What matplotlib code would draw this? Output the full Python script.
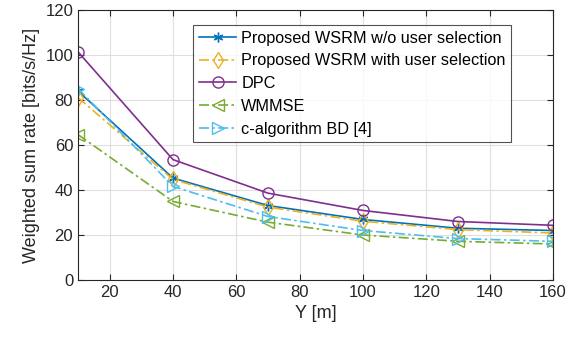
import matplotlib
matplotlib.use("Agg")
import matplotlib.pyplot as plt

plt.rcParams["font.family"] = ["Liberation Sans", "DejaVu Sans"]

# distance Y in metres
y_dist = [10, 40, 70, 100, 130, 160]

# weighted sum rate [bits/s/Hz]
wsrm_no_sel = [84.0, 45.3, 33.1, 26.9, 23.0, 22.0]
wsrm_sel = [81.1, 44.7, 32.4, 26.1, 22.4, 20.9]
dpc = [101.4, 53.5, 38.6, 30.9, 26.0, 24.3]
wmmse = [64.6, 34.9, 25.7, 20.0, 17.2, 16.0]
c_alg_bd = [85.1, 41.6, 28.2, 22.0, 18.4, 17.2]

fig = plt.figure(figsize=(5.8, 3.41), dpi=100)
ax = fig.add_axes([78 / 580, 1 - 280 / 341, (553 - 78) / 580, (280 - 10) / 341])

dashdot = (0, (6, 2, 1.5, 2))
ax.plot(y_dist, wsrm_no_sel, "-", marker=(6, 2, 0), color="#0072BD", lw=1.2, ms=7,
        label="Proposed WSRM w/o user selection")
ax.plot(y_dist, wsrm_sel, linestyle=dashdot, marker="d", color="#EDB120", lw=1.2, ms=8,
        mfc="none", label="Proposed WSRM with user selection")
ax.plot(y_dist, dpc, "-", marker="o", color="#7E2F8E", lw=1.2, ms=8,
        mfc="none", label="DPC")
ax.plot(y_dist, wmmse, linestyle=dashdot, marker="<", color="#77AC30", lw=1.2, ms=8,
        mfc="none", label="WMMSE")
ax.plot(y_dist, c_alg_bd, linestyle=dashdot, marker=">", color="#4DBEEE", lw=1.2, ms=8,
        mfc="none", label="c-algorithm BD [4]")

ax.set_xlim(10, 160)
ax.set_ylim(0, 120)
ax.set_xticks([20, 40, 60, 80, 100, 120, 140, 160])
ax.set_yticks([0, 20, 40, 60, 80, 100, 120])
ax.grid(True, color="#dfdfdf", lw=0.8)
ax.tick_params(direction="in", top=True, right=True, labelsize=12, length=4,
               color="#262626", labelcolor="#262626")
for s in ax.spines.values():
    s.set_color("#262626")
    s.set_linewidth(0.8)

ax.set_xlabel("Y [m]", fontsize=13, color="#262626")
ax.set_ylabel("Weighted sum rate [bits/s/Hz]", fontsize=13, color="#262626")

leg = ax.legend(loc="upper left", bbox_to_anchor=(0.243, 0.945), fontsize=11.7,
                frameon=True, fancybox=False, edgecolor="#262626",
                handlelength=2.3, handletextpad=0.3, borderpad=0.35,
                labelspacing=0.48, borderaxespad=0)
leg.get_frame().set_linewidth(0.8)

fig.savefig("out.png", dpi=100)
